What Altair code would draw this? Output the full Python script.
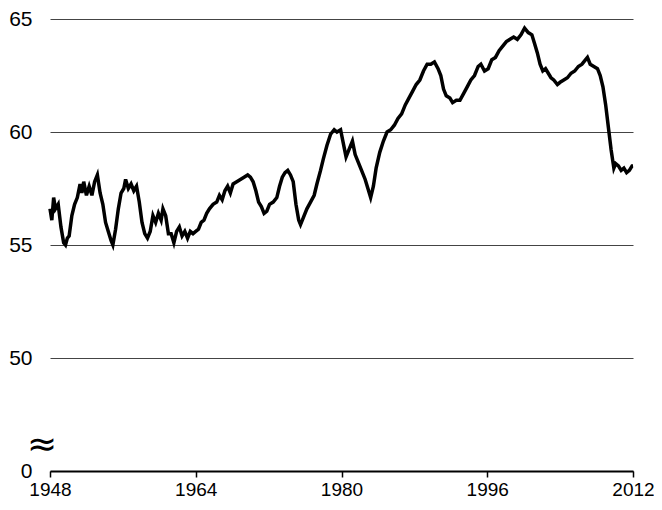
import altair as alt
import pandas as pd

years = [
    1948.0, 1948.2, 1948.4, 1948.6, 1948.9, 1949.2, 1949.5, 1949.7, 1949.9, 1950.1,
    1950.4, 1950.7, 1951.0, 1951.3, 1951.5, 1951.7, 1952.0, 1952.3, 1952.6, 1952.9,
    1953.2, 1953.5, 1953.8, 1954.1, 1954.4, 1954.7, 1954.9, 1955.2, 1955.5, 1955.8,
    1956.1, 1956.3, 1956.6, 1956.9, 1957.2, 1957.5, 1957.8, 1958.1, 1958.4, 1958.7,
    1959.0, 1959.3, 1959.6, 1959.9, 1960.2, 1960.4, 1960.7, 1961.0, 1961.3, 1961.6,
    1961.9, 1962.2, 1962.5, 1962.8, 1963.1, 1963.4, 1963.7, 1964.0, 1964.3, 1964.6,
    1964.9, 1965.2, 1965.5, 1965.9, 1966.3, 1966.6, 1966.9, 1967.2, 1967.5, 1967.8,
    1968.1, 1968.5, 1968.9, 1969.3, 1969.7, 1970.0, 1970.3, 1970.6, 1970.9, 1971.2,
    1971.5, 1971.8, 1972.1, 1972.5, 1972.9, 1973.2, 1973.5, 1973.8, 1974.1, 1974.4,
    1974.7, 1975.0, 1975.3, 1975.5, 1975.8, 1976.2, 1976.6, 1977.0, 1977.3, 1977.7,
    1978.0, 1978.4, 1978.8, 1979.2, 1979.5, 1979.9, 1980.2, 1980.5, 1980.8, 1981.2,
    1981.5, 1981.8, 1982.2, 1982.6, 1982.9, 1983.2, 1983.5, 1983.8, 1984.2, 1984.6,
    1985.0, 1985.4, 1985.8, 1986.2, 1986.6, 1987.0, 1987.4, 1987.8, 1988.2, 1988.6,
    1989.0, 1989.4, 1989.8, 1990.2, 1990.6, 1990.9, 1991.2, 1991.5, 1991.9, 1992.2,
    1992.6, 1993.0, 1993.4, 1993.8, 1994.2, 1994.6, 1995.0, 1995.3, 1995.7, 1996.1,
    1996.5, 1996.9, 1997.3, 1997.7, 1998.1, 1998.5, 1998.9, 1999.3, 1999.7, 2000.1,
    2000.5, 2000.9, 2001.2, 2001.5, 2001.8, 2002.1, 2002.4, 2002.7, 2003.0, 2003.3,
    2003.7, 2004.0, 2004.4, 2004.8, 2005.2, 2005.6, 2006.0, 2006.4, 2006.8, 2007.0,
    2007.3, 2007.7, 2008.1, 2008.4, 2008.7, 2009.0, 2009.3, 2009.6, 2009.9, 2010.1,
    2010.4, 2010.7, 2011.0, 2011.3, 2011.6, 2011.9, 2012.0,
]
ratio = [
    56.6, 56.1, 57.1, 56.6, 56.8, 55.8, 55.1, 55.0, 55.3, 55.4,
    56.3, 56.8, 57.1, 57.7, 57.3, 57.8, 57.2, 57.6, 57.2, 57.8,
    58.1, 57.3, 56.8, 56.0, 55.6, 55.2, 55.0, 55.7, 56.6, 57.3,
    57.5, 57.9, 57.5, 57.7, 57.4, 57.6, 56.9, 56.0, 55.5, 55.3,
    55.6, 56.3, 56.0, 56.4, 56.1, 56.6, 56.3, 55.5, 55.5, 55.1,
    55.6, 55.8, 55.4, 55.6, 55.3, 55.6, 55.5, 55.6, 55.7, 56.0,
    56.1, 56.4, 56.6, 56.8, 56.9, 57.2, 57.0, 57.4, 57.6, 57.3,
    57.7, 57.8, 57.9, 58.0, 58.1, 58.0, 57.8, 57.4, 56.9, 56.7,
    56.4, 56.5, 56.8, 56.9, 57.1, 57.6, 58.0, 58.2, 58.3, 58.1,
    57.8, 56.8, 56.1, 55.9, 56.2, 56.6, 56.9, 57.2, 57.7, 58.3,
    58.8, 59.4, 59.9, 60.1, 60.0, 60.1, 59.5, 58.9, 59.2, 59.6,
    59.0, 58.7, 58.3, 57.9, 57.5, 57.1, 57.6, 58.4, 59.1, 59.6,
    60.0, 60.1, 60.3, 60.6, 60.8, 61.2, 61.5, 61.8, 62.1, 62.3,
    62.7, 63.0, 63.0, 63.1, 62.8, 62.5, 61.9, 61.6, 61.5, 61.3,
    61.4, 61.4, 61.7, 62.0, 62.3, 62.5, 62.9, 63.0, 62.7, 62.8,
    63.2, 63.3, 63.6, 63.8, 64.0, 64.1, 64.2, 64.1, 64.3, 64.6,
    64.4, 64.3, 63.9, 63.5, 63.0, 62.7, 62.8, 62.6, 62.4, 62.3,
    62.1, 62.2, 62.3, 62.4, 62.6, 62.7, 62.9, 63.0, 63.2, 63.3,
    63.0, 62.9, 62.8, 62.5, 62.0, 61.2, 60.2, 59.2, 58.4, 58.6,
    58.5, 58.3, 58.4, 58.2, 58.3, 58.5, 58.5,
]

x_ticks = [1948, 1964, 1980, 1996, 2012]
y_ticks = [45, 50, 55, 60, 65]   # 45 marks the broken-axis base, labelled "0"
break_level = [46.15]

df = pd.DataFrame({"year": years, "ratio": ratio})

FONT = "Liberation Sans"
y_scale = alt.Scale(domain=[45, 65], nice=False, zero=False)

x_enc = alt.X(
    "year:Q",
    scale=alt.Scale(domain=[1948, 2012], nice=False, zero=False),
    axis=alt.Axis(
        values=x_ticks, format="d", title=None, grid=False,
        domainColor="black", domainWidth=2, tickColor="black", tickWidth=1.5,
        tickSize=6, labelFontSize=19, labelFont=FONT, labelColor="black",
        labelPadding=3, labelFlush=False,
    ),
)
y_enc = alt.Y(
    "ratio:Q",
    scale=y_scale,
    axis=alt.Axis(
        values=y_ticks, title=None, grid=True, gridColor="#444444", gridWidth=1,
        domain=False, ticks=False, labelFontSize=21, labelFont=FONT,
        labelColor="black", labelPadding=18,
        labelExpr="datum.value == 45 ? '0' : datum.value",
    ),
)

line = alt.Chart(df).mark_line(color="black", strokeWidth=3.5).encode(x=x_enc, y=y_enc)

brk = alt.Chart(pd.DataFrame({"lvl": break_level})).mark_text(
    text="≈", fontSize=36, font="DejaVu Sans", color="black"
).encode(x=alt.value(-8), y=alt.Y("lvl:Q", scale=y_scale))

chart = (
    alt.layer(line, brk)
    .properties(
        width=583, height=452,
        padding={"left": 42, "top": 11, "right": 21, "bottom": 31},
        autosize=alt.AutoSizeParams(type="none"),
    )
    .configure_view(stroke=None)
)

chart.save("out.html", embed_options={"renderer": "svg", "actions": False})
